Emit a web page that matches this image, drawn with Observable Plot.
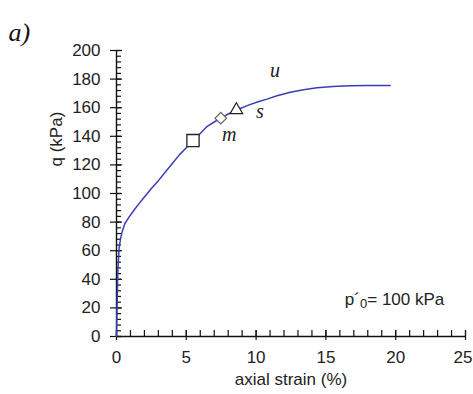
<!DOCTYPE html>
<html>
<head>
<meta charset="utf-8">
<script src="https://cdn.jsdelivr.net/npm/d3@7"></script>
<script src="https://cdn.jsdelivr.net/npm/@observablehq/plot@0.6"></script>
<style>
  html, body { margin: 0; padding: 0; background: #fff; }
  #chart { position: relative; width: 473px; height: 394px; }
</style>
</head>
<body>
<div id="chart"></div>
<script>
// ---- data ----
const strain = [0, 0.02, 0.05, 0.08, 0.12, 0.19, 0.3, 0.43, 0.6, 0.9, 1.3, 1.5, 2.0, 2.5, 3.0, 3.5, 4.0, 4.5, 5.0, 5.48, 6.0, 6.5, 7.0, 7.47, 8.0, 8.59, 9.5, 10.2, 10.78, 11.5, 12.45, 13.4, 14.36, 15.5, 16.7, 18.0, 19.6];
const qkPa   = [0, 10,   25,   40,   50,   62,   69,  74,   79,  83.5, 89, 91.5, 97.5, 103.5, 109, 115, 121, 127, 132, 137, 142, 147, 150, 152.7, 155.6, 158.4, 162, 164.3, 166, 168.3, 170.8, 172.5, 173.9, 174.8, 175.3, 175.5, 175.5];

const markerSymbols = ["square", "diamond", "triangle"];
const markerStrain  = [5.48, 7.47, 8.59];
const markerQ       = [137, 152.7, 158.4];

const pointLabels   = ["u", "s", "m"];
const labelStrain   = [11.35, 10.28, 8.07];
const labelQ        = [186, 157.5, 141.2];

const xMajorTicks = [0, 5, 10, 15, 20, 25];
const yMajorTicks = [0, 20, 40, 60, 80, 100, 120, 140, 160, 180, 200];
const xMinorTicks = d3.range(0, 26, 1);
const yMinorTicks = d3.range(0, 201, 4);

const xLabel = "axial strain (%)";
const yLabel = "q (kPa)";
const panelLabel = "a)";
const noteParts = ["p´", "0", "= 100 kPa"];
const noteStrain = 16.35;
const noteQ = 25.5;

// ---- layout ----
const W = 473, H = 394;
const mL = 116, mR = 8, mT = 50, mB = 58;
const fw = W - mL - mR, fh = H - mT - mB;

const curve = strain.map((s, i) => ({s, q: qkPa[i]}));
const markers = markerSymbols.map((m, i) => ({m, s: markerStrain[i], q: markerQ[i]}));
const labels = pointLabels.map((t, i) => ({t, s: labelStrain[i], q: labelQ[i]}));

const sans = "Liberation Sans, Arial, Helvetica, sans-serif";
const serif = "Liberation Serif, Times New Roman, serif";
const lineColor = "#3c3cb8";
const lastX = xMajorTicks[xMajorTicks.length - 1];

const plot = Plot.plot({
  width: W, height: H,
  marginLeft: mL, marginRight: mR, marginTop: mT, marginBottom: mB,
  style: {fontFamily: sans, fontSize: "17px", color: "#222", background: "#fff", overflow: "visible"},
  x: {domain: [0, 25]},
  y: {domain: [0, 200]},
  marks: [
    // axis tick labels
    Plot.axisX({ticks: xMajorTicks.slice(0, -1), tickSize: 0, tickPadding: 14, label: null, fill: "#222"}),
    Plot.axisX({ticks: [lastX], tickSize: 0, tickPadding: 14, label: null, fill: "#222", dx: -2.5}),
    Plot.axisY({ticks: yMajorTicks, tickSize: 0, tickPadding: 16, label: null, fill: "#222"}),
    // minor & major ticks
    Plot.tickX(xMinorTicks, {x: d => d, insetTop: fh - 6, stroke: "#111", strokeWidth: 1.2}),
    Plot.tickX(xMajorTicks, {x: d => d, insetTop: fh - 6, insetBottom: -4, stroke: "#111", strokeWidth: 1.2}),
    Plot.tickY(yMinorTicks, {y: d => d, insetRight: fw - 5, stroke: "#111", strokeWidth: 1.2}),
    Plot.tickY(yMajorTicks, {y: d => d, insetLeft: -6, insetRight: fw - 6, stroke: "#111", strokeWidth: 1.2}),
    // axis lines
    Plot.ruleY([0], {stroke: "#111", strokeWidth: 1.4}),
    Plot.ruleX([0], {stroke: "#111", strokeWidth: 1.4}),
    // curve
    Plot.line(curve, {x: "s", y: "q", stroke: lineColor, strokeWidth: 1.5, curve: "linear"}),
    // markers
    Plot.dot(markers.filter(d => d.m === "square"), {x: "s", y: "q", symbol: "square", r: 6.9, fill: "white", stroke: "#222", strokeWidth: 1.3}),
    Plot.dot(markers.filter(d => d.m === "diamond"), {x: "s", y: "q", symbol: "square", rotate: 45, r: 4.6, fill: "white", stroke: "#666", strokeWidth: 1.2}),
    Plot.dot(markers.filter(d => d.m === "triangle"), {x: "s", y: "q", symbol: "triangle", r: 4.7, fill: "white", stroke: "#222", strokeWidth: 1.2}),
    // point labels
    Plot.text(labels, {x: "s", y: "q", text: "t", fontFamily: serif, fontStyle: "italic", fontSize: 20, fill: "#222"}),
    // note p'0 = 100 kPa
    Plot.text([noteParts[0]], {x: () => noteStrain, y: () => noteQ, text: d => d, textAnchor: "start", fontSize: 17, fill: "#222"}),
    Plot.text([noteParts[1]], {x: () => noteStrain, y: () => noteQ, text: d => d, textAnchor: "start", fontSize: 13, dx: 15.3, dy: 4, fill: "#222"}),
    Plot.text([noteParts[2]], {x: () => noteStrain, y: () => noteQ, text: d => d, textAnchor: "start", fontSize: 17, dx: 22.5, fill: "#222"}),
    // axis titles
    Plot.text([xLabel], {frameAnchor: "bottom", text: d => d, dy: 48, fontSize: 17, fill: "#222"}),
    Plot.text([yLabel], {frameAnchor: "left", text: d => d, rotate: -90, dx: -60, dy: -27, fontSize: 17, fill: "#222"}),
    // panel label
    Plot.text([panelLabel], {frameAnchor: "top-left", text: d => d, textAnchor: "start", dx: -108, dy: -28, fontFamily: serif, fontStyle: "italic", fontSize: 26, fill: "#111"})
  ]
});
document.getElementById("chart").appendChild(plot);
</script>
</body>
</html>
